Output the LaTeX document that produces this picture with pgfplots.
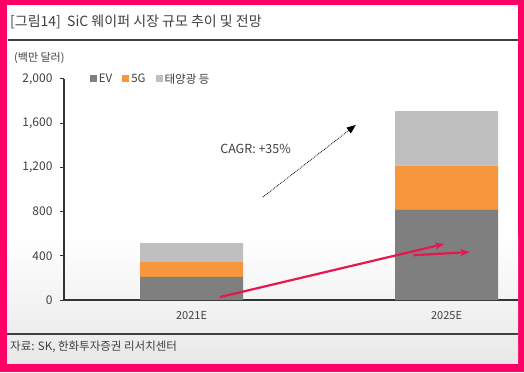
\documentclass[border=0pt]{standalone}
\usepackage{fontspec}
\setmainfont{Noto Sans CJK KR}
\usepackage{pgfplots}
\pgfplotsset{compat=1.18}
\usetikzlibrary{arrows.meta}
\definecolor{frame}{HTML}{FF0066}
\definecolor{evc}{HTML}{7F7F7F}
\definecolor{fivegc}{HTML}{F7963C}
\definecolor{solc}{HTML}{BFBFBF}
\definecolor{redarrow}{HTML}{E8154F}
\definecolor{txt}{HTML}{404040}
\begin{document}
\begin{tikzpicture}[x=1pt,y=1pt]
\useasboundingbox (0,0) rectangle (524,372);
\fill[frame] (0,0) rectangle (524,372);
\fill[white] (7,9) rectangle (518,367);
\shade[top color=white, bottom color=black!9] (7,9) rectangle (518,135);
% title
\node[anchor=west, text=txt, font=\fontsize{14}{16}\selectfont, inner sep=0] at (10,350) {[그림14]\ \ SiC 웨이퍼 시장 규모 추이 및 전망};
\draw[line width=1.8pt, black!75] (8,332) -- (518,332);
\node[anchor=west, text=txt, font=\fontsize{11}{13}\selectfont, inner sep=0] at (14,314) {(백만 달러)};
% source
\draw[line width=1.3pt, black!75] (7,38) -- (518,38);
\node[anchor=west, text=txt, font=\fontsize{11.5}{13}\selectfont, inner sep=0] at (10,25) {자료: SK, 한화투자증권 리서치센터};
\begin{axis}[
  at={(64pt,72pt)}, anchor=south west,
  scale only axis, width=454pt, height=221pt,
  ybar stacked, bar width=103pt,
  xmin=-0.5, xmax=1.28, ymin=0, ymax=2000,
  axis x line=bottom, axis y line=left,
  axis line style={-, line width=1.1pt, black!80},
  xtick={0,1}, xticklabels={2021E,2025E},
  x tick style={draw=none},
  extra x ticks={0.5}, extra x tick labels={},
  extra x tick style={tick style={draw=black!80, line width=1pt}, major tick length=3pt},
  ytick={0,400,800,1200,1600,2000},
  tick align=outside,
  y tick style={line width=1pt, black!80},
  major tick length=4pt,
  /pgf/number format/assume math mode=true,
  /pgf/number format/.cd, 1000 sep={,}, /pgfplots/.cd,
  yticklabel style={text=txt, font=\fontsize{12}{14}\selectfont, xshift=-4pt},
  xticklabel style={text=txt, font=\fontsize{11}{13}\selectfont, yshift=-4pt},
  legend style={at={(0.05,1)}, anchor=west, draw=none, fill=none,
    legend columns=3, font=\fontsize{11.5}{13}\selectfont, text=txt,
    /tikz/every even column/.append style={column sep=8pt}},
  legend image code/.code={\fill[#1] (0pt,-3.5pt) rectangle (7pt,3.5pt);},
  legend cell align=left,
  clip=false,
]
\addplot[fill=evc, draw=none] coordinates {(0,210) (1,820)};
\addplot[fill=fivegc, draw=none] coordinates {(0,133) (1,395)};
\addplot[fill=solc, draw=none] coordinates {(0,172) (1,495)};
\legend{EV,5G,태양광 등}
\coordinate (cagr) at (axis cs:0.112,1367);
\coordinate (d1) at (axis cs:0.28,932);
\coordinate (d2) at (axis cs:0.644,1584);
\coordinate (r1) at (axis cs:0.112,27);
\coordinate (r2) at (axis cs:0.99,507);
\coordinate (r3) at (axis cs:0.87,405);
\coordinate (r4) at (axis cs:1.09,434);
\end{axis}
\node[anchor=west, text=txt, font=\fontsize{12.5}{14}\selectfont, inner sep=0] at (cagr) {CAGR: +35\%};
\draw[densely dotted, line width=0.8pt, -{Triangle[length=9pt,width=7pt]}] (d1) -- (d2);
\draw[redarrow, line width=2.2pt, -{Stealth[length=9pt,width=7pt]}] (r1) -- (r2);
\draw[redarrow, line width=2.2pt, -{Stealth[length=9pt,width=7pt]}] (r3) -- (r4);
\end{tikzpicture}
\end{document}
